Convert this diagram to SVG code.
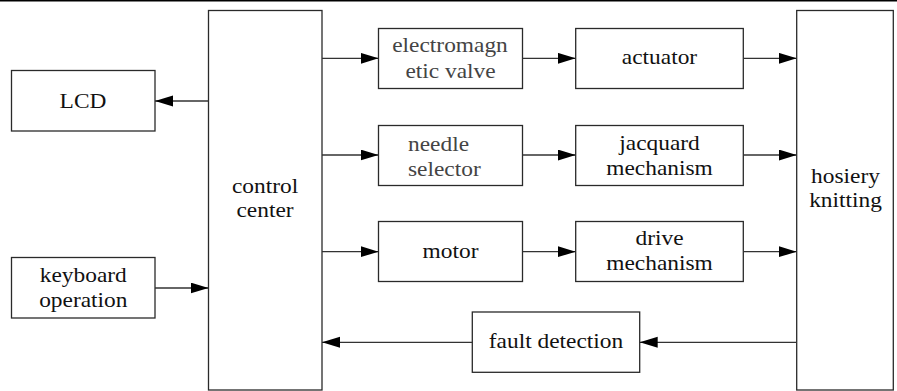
<svg xmlns="http://www.w3.org/2000/svg" width="897" height="391" viewBox="0 0 897 391">
<style>
.box{fill:#fff;stroke:#2a2a2a;stroke-width:1.3}
.c{stroke:#333;stroke-width:1.3}
</style>
<defs>
<marker id="ah" markerUnits="userSpaceOnUse" markerWidth="19" markerHeight="12" refX="18" refY="5.5" orient="auto">
<path d="M0,0 L18,5.5 L0,11 z" fill="#000"/>
</marker>
</defs>
<rect width="897" height="391" fill="#fff"/>
<line x1="0" y1="0.7" x2="897" y2="0.7" stroke="#000" stroke-width="1.5"/>
<g id="lcd"><rect class="box" x="11.5" y="70.5" width="143.5" height="60.5"/><text transform="translate(83,107.5) scale(1.17,1)" font-family="Liberation Serif" font-size="20" fill="#111" text-anchor="middle">LCD</text></g>
<g id="keyboard"><rect class="box" x="11.5" y="257.5" width="143.5" height="60.5"/><text transform="translate(83.3,281.5) scale(1.17,1)" font-family="Liberation Serif" font-size="20" fill="#111" text-anchor="middle">keyboard</text><text transform="translate(83.3,307) scale(1.17,1)" font-family="Liberation Serif" font-size="20" fill="#111" text-anchor="middle">operation</text></g>
<g id="control"><rect class="box" x="208.5" y="10.5" width="113.5" height="379.5"/><text transform="translate(265,192.5) scale(1.17,1)" font-family="Liberation Serif" font-size="20" fill="#111" text-anchor="middle">control</text><text transform="translate(265,217) scale(1.17,1)" font-family="Liberation Serif" font-size="20" fill="#111" text-anchor="middle">center</text></g>
<g id="valve"><rect class="box" x="378.5" y="28.5" width="144" height="60"/><text transform="translate(450,52) scale(1.17,1)" font-family="Liberation Serif" font-size="20" fill="#444" text-anchor="middle">electromagn</text><text transform="translate(450.5,78) scale(1.17,1)" font-family="Liberation Serif" font-size="20" fill="#444" text-anchor="middle">etic valve</text></g>
<g id="needle"><rect class="box" x="378.5" y="125.5" width="144" height="60"/><text transform="translate(408,150.5) scale(1.17,1)" font-family="Liberation Serif" font-size="20" fill="#444">needle</text><text transform="translate(408,176) scale(1.17,1)" font-family="Liberation Serif" font-size="20" fill="#444">selector</text></g>
<g id="motor"><rect class="box" x="378.5" y="221.5" width="144" height="60"/><text transform="translate(450.5,258.3) scale(1.17,1)" font-family="Liberation Serif" font-size="20" fill="#111" text-anchor="middle">motor</text></g>
<g id="actuator"><rect class="box" x="575.7" y="28.5" width="167.6" height="60"/><text transform="translate(659.5,64.3) scale(1.17,1)" font-family="Liberation Serif" font-size="20" fill="#111" text-anchor="middle">actuator</text></g>
<g id="jacquard"><rect class="box" x="575.7" y="125.5" width="167.6" height="60"/><text transform="translate(659.5,150) scale(1.17,1)" font-family="Liberation Serif" font-size="20" fill="#111" text-anchor="middle">jacquard</text><text transform="translate(659.5,175) scale(1.17,1)" font-family="Liberation Serif" font-size="20" fill="#111" text-anchor="middle">mechanism</text></g>
<g id="drive"><rect class="box" x="575.7" y="221.5" width="167.6" height="60"/><text transform="translate(659.5,245) scale(1.17,1)" font-family="Liberation Serif" font-size="20" fill="#111" text-anchor="middle">drive</text><text transform="translate(659.5,270) scale(1.17,1)" font-family="Liberation Serif" font-size="20" fill="#111" text-anchor="middle">mechanism</text></g>
<g id="fault"><rect class="box" x="472.3" y="312" width="167.4" height="60.3"/><text transform="translate(556,348.3) scale(1.17,1)" font-family="Liberation Serif" font-size="20" fill="#111" text-anchor="middle">fault detection</text></g>
<g id="hosiery"><rect class="box" x="796.7" y="10.5" width="96.6" height="379.5"/><text transform="translate(845.5,183.3) scale(1.17,1)" font-family="Liberation Serif" font-size="20" fill="#111" text-anchor="middle">hosiery</text><text transform="translate(845.5,206.7) scale(1.17,1)" font-family="Liberation Serif" font-size="20" fill="#111" text-anchor="middle">knitting</text></g>
<g id="connectors">
<line class="c" marker-end="url(#ah)" x1="208.5" y1="101" x2="155" y2="101"/>
<line class="c" marker-end="url(#ah)" x1="155" y1="288" x2="208.5" y2="288"/>
<line class="c" marker-end="url(#ah)" x1="322" y1="58.3" x2="378.5" y2="58.3"/>
<line class="c" marker-end="url(#ah)" x1="322" y1="155" x2="378.5" y2="155"/>
<line class="c" marker-end="url(#ah)" x1="322" y1="251.7" x2="378.5" y2="251.7"/>
<line class="c" marker-end="url(#ah)" x1="522.5" y1="58.3" x2="575.7" y2="58.3"/>
<line class="c" marker-end="url(#ah)" x1="522.5" y1="155" x2="575.7" y2="155"/>
<line class="c" marker-end="url(#ah)" x1="522.5" y1="251.7" x2="575.7" y2="251.7"/>
<line class="c" marker-end="url(#ah)" x1="743.3" y1="58.3" x2="796.7" y2="58.3"/>
<line class="c" marker-end="url(#ah)" x1="743.3" y1="155" x2="796.7" y2="155"/>
<line class="c" marker-end="url(#ah)" x1="743.3" y1="251.7" x2="796.7" y2="251.7"/>
<line class="c" marker-end="url(#ah)" x1="796.7" y1="342.3" x2="639.7" y2="342.3"/>
<line class="c" marker-end="url(#ah)" x1="472.3" y1="342.3" x2="322" y2="342.3"/>
</g>
</svg>
